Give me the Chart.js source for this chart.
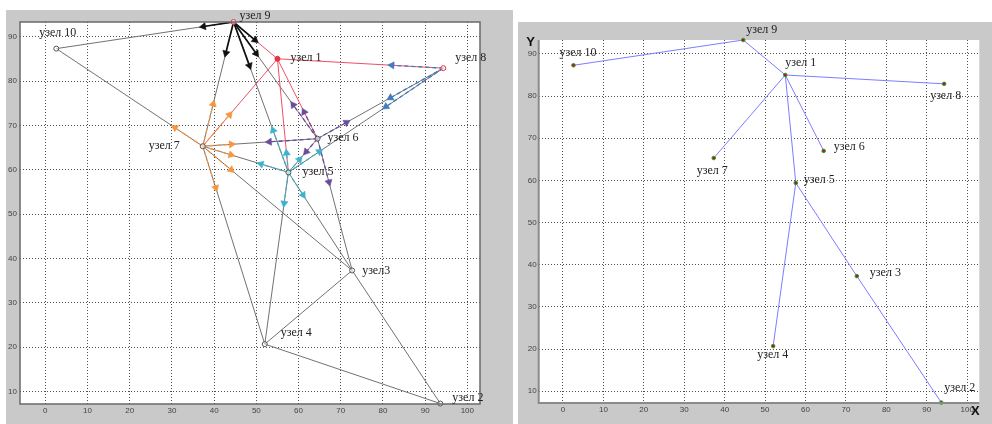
<!DOCTYPE html>
<html>
<head>
<meta charset="utf-8">
<script src="https://cdn.jsdelivr.net/npm/chart.js@4.4.1/dist/chart.umd.min.js"></script>
<style>
  html, body { margin: 0; padding: 0; background: #fff; }
  body { width: 992px; height: 424px; position: relative; overflow: hidden; }
  .panel { position: absolute; background: #c9c9c9; }
  #leftPanel { left: 6px; top: 10px; width: 507px; height: 414px; }
  #rightPanel { left: 518px; top: 22px; width: 474px; height: 402px; }
  canvas { display: block; }
</style>
</head>
<body>
<div class="panel" id="leftPanel"><canvas id="netChart"></canvas></div>
<div class="panel" id="rightPanel"><canvas id="treeChart"></canvas></div>
<script>
// node coordinates (узел 1 .. узел 10)
const nodeX = [55.0, 93.6, 72.7, 52.0, 57.6, 64.5, 37.3, 94.3, 44.6, 2.6];
const nodeY = [85.0, 7.3, 37.3, 20.7, 59.4, 67.0, 65.3, 82.9, 93.3, 87.3];
const leftNames = ['узел 1', 'узел 2', 'узел3', 'узел 4', 'узел 5', 'узел 6', 'узел 7', 'узел 8', 'узел 9', 'узел 10'];
const rightNames = ['узел 1', 'узел 2', 'узел 3', 'узел 4', 'узел 5', 'узел 6', 'узел 7', 'узел 8', 'узел 9', 'узел 10'];

const xTicks = [0, 10, 20, 30, 40, 50, 60, 70, 80, 90, 100];
const yTicks = [10, 20, 30, 40, 50, 60, 70, 80, 90];

// full network (left)
const grayEdges = [[10, 9], [10, 7], [9, 7], [9, 6], [9, 5], [8, 6], [8, 5], [7, 6], [7, 5], [7, 3],
  [7, 4], [6, 5], [6, 3], [5, 3], [5, 4], [4, 3], [4, 2], [3, 2]];
const redEdges = [[9, 1], [1, 8], [1, 7], [1, 5], [1, 6]];

// flows: source node, target node, where the arrow head sits along the edge
const arrows = [
  [9, 10, 0.17], [9, 7, 0.25], [9, 1, 0.49], [9, 6, 0.27], [9, 5, 0.29],
  [7, 10, 0.19], [7, 9, 0.34], [7, 1, 0.36], [7, 6, 0.25], [7, 5, 0.33], [7, 3, 0.19], [7, 4, 0.21],
  [8, 1, 0.31], [8, 6, 0.42], [8, 5, 0.37],
  [6, 7, 0.42], [6, 9, 0.29], [6, 1, 0.335], [6, 8, 0.23], [6, 5, 0.39], [6, 3, 0.33],
  [5, 7, 0.32], [5, 9, 0.28], [5, 1, 0.17], [5, 6, 0.38], [5, 8, 0.2], [5, 4, 0.18], [5, 3, 0.23]
];

// resulting tree (right)
const treeEdges = [[10, 9], [9, 1], [1, 8], [1, 7], [1, 6], [1, 5], [5, 4], [5, 3], [3, 2]];

const flowColors = { 9: '#111111', 7: '#f5953f', 8: '#3f7bbf', 6: '#6b4c9c', 5: '#3cb3cc' };

const pt = n => ({ x: nodeX[n - 1], y: nodeY[n - 1] });
const along = (a, b, t) => ({
  x: nodeX[a - 1] + (nodeX[b - 1] - nodeX[a - 1]) * t,
  y: nodeY[a - 1] + (nodeY[b - 1] - nodeY[a - 1]) * t
});

const panelPlugin = {
  id: 'panel',
  beforeDraw(chart) {
    const a = chart.chartArea, ctx = chart.ctx;
    ctx.save();
    ctx.fillStyle = '#ffffff';
    ctx.fillRect(a.left, a.top, a.right - a.left, a.bottom - a.top);
    ctx.restore();
  },
  afterDraw(chart, args, opts) {
    const { ctx, chartArea: a, scales } = chart;
    ctx.save();
    ctx.strokeStyle = opts.frameColor;
    ctx.lineWidth = opts.frameWidth;
    ctx.beginPath();
    if (opts.frame === 'box') {
      ctx.rect(a.left, a.top, a.right - a.left, a.bottom - a.top);
    } else {
      ctx.moveTo(a.left, a.top);
      ctx.lineTo(a.left, a.bottom);
      ctx.lineTo(a.right, a.bottom);
    }
    ctx.stroke();
    //node names
    ctx.font = '12px "Liberation Serif", serif';
    ctx.fillStyle = '#222';
    ctx.textBaseline = 'middle';
    opts.names.forEach((name, i) => {
      const px = scales.x.getPixelForValue(nodeX[i]);
      const py = scales.y.getPixelForValue(nodeY[i]);
      const off = opts.offsets[i];
      ctx.textAlign = off[2] || 'left';
      ctx.fillText(name, px + off[0], py + off[1]);
    });
    //axis letters (right chart only)
    if (opts.axisLetters) {
      ctx.font = 'bold 13px "Liberation Sans", sans-serif';
      ctx.fillStyle = '#111';
      ctx.textAlign = 'center';
      ctx.fillText('Y', a.left - 8, a.top + 2);
      ctx.fillText('X', a.right - 4, a.bottom + 8);
    }
    ctx.restore();
  }
};

function axes(yWidth, xHeight, yPad) {
  const common = {
    type: 'linear',
    grid: { color: 'rgba(60,60,60,0.9)', lineWidth: 1, drawTicks: false },
    border: { display: false, dash: [1, 2] },
    ticks: { color: '#444', font: { family: '"Liberation Sans", sans-serif', size: 8 } }
  };
  return {
    x: {
      ...common, min: -6, max: 103,
      ticks: { ...common.ticks, padding: 2 },
      afterBuildTicks: s => { s.ticks = xTicks.map(v => ({ value: v })); },
      afterFit: s => { s.height = xHeight; }
    },
    y: {
      ...common, min: 7.2, max: 93.3,
      ticks: { ...common.ticks, padding: yPad },
      afterBuildTicks: s => { s.ticks = yTicks.map(v => ({ value: v })); },
      afterFit: s => { s.width = yWidth; }
    }
  };
}

document.addEventListener('DOMContentLoaded', function () {
  // ---------- left: network with flows ----------
  const netSets = [];
  grayEdges.forEach(([a, b]) => netSets.push({
    data: [pt(a), pt(b)], showLine: true, borderColor: '#727272', borderWidth: 1, pointRadius: 0, order: 6
  }));
  redEdges.forEach(([a, b]) => netSets.push({
    data: [pt(a), pt(b)], showLine: true, borderColor: '#ef5064', borderWidth: 1, pointRadius: 0, order: 5
  }));
  arrows.forEach(([f, t, p]) => netSets.push({
    data: [pt(f), along(f, t, p)], showLine: true, borderColor: flowColors[f],
    borderWidth: f === 9 ? 1.7 : 1.3, borderDash: f === 9 ? [] : [4, 3], pointRadius: 0, order: 4
  }));
  Object.keys(flowColors).forEach(src => {
    const s = Number(src);
    netSets.push({
      data: arrows.filter(r => r[0] === s).map(([f, t, p]) => ({ ...along(f, t, p), from: f, to: t })),
      pointStyle: 'triangle', pointRadius: 4.2, borderWidth: 0.5,
      backgroundColor: flowColors[s], borderColor: flowColors[s], clip: false, order: 2,
      rotation: ctx => {
        const r = ctx.raw;
        if (!r) return 0;
        const sx = ctx.chart.scales.x, sy = ctx.chart.scales.y;
        const dx = sx.getPixelForValue(nodeX[r.to - 1]) - sx.getPixelForValue(nodeX[r.from - 1]);
        const dy = sy.getPixelForValue(nodeY[r.to - 1]) - sy.getPixelForValue(nodeY[r.from - 1]);
        return Math.atan2(dx, -dy) * 180 / Math.PI;
      }
    });
  });
  netSets.push({
    data: nodeX.map((x, i) => ({ x: x, y: nodeY[i] })),
    pointStyle: 'circle', pointRadius: 2.5, borderWidth: 1,
    backgroundColor: nodeX.map((_, i) => i === 0 ? '#e83048' : 'rgba(255,255,255,0.6)'),
    borderColor: nodeX.map((_, i) => [0, 7, 8].includes(i) ? '#e83048' : '#555'),
    clip: false, order: 1
  });

  new Chart(document.getElementById('netChart'), {
    type: 'scatter',
    data: { datasets: netSets },
    options: {
      responsive: true, maintainAspectRatio: false, animation: false, events: [],
      layout: { padding: { left: 0, top: 12, right: 33, bottom: 0 }, autoPadding: false },
      scales: axes(14, 20, 3),
      plugins: {
        legend: { display: false }, tooltip: { enabled: false }, colors: { enabled: false },
        panel: {
          frame: 'box', frameColor: '#6a6a6a', frameWidth: 1.5, names: leftNames,
          offsets: [[13, -1], [12, -6], [10, 0], [16, -11], [14, -1], [10, -1], [-23, 0, 'right'], [12, -10], [6, -6], [-17, -16]]
        }
      }
    },
    plugins: [panelPlugin]
  });

  // ---------- right: result tree ----------
  const treeSets = treeEdges.map(([a, b]) => ({
    data: [pt(a), pt(b)], showLine: true, borderColor: '#7d7dff', borderWidth: 1, pointRadius: 0, order: 3
  }));
  treeSets.push({
    data: nodeX.map((x, i) => ({ x: x, y: nodeY[i] })),
    pointStyle: 'circle', pointRadius: 1.8, borderWidth: 1,
    backgroundColor: '#c01010', borderColor: '#30a030', clip: false, order: 1
  });

  new Chart(document.getElementById('treeChart'), {
    type: 'scatter',
    data: { datasets: treeSets },
    options: {
      responsive: true, maintainAspectRatio: false, animation: false, events: [],
      layout: { padding: { left: 0, top: 18, right: 12.7, bottom: 0 }, autoPadding: false },
      scales: axes(20.7, 21, 2),
      plugins: {
        legend: { display: false }, tooltip: { enabled: false }, colors: { enabled: false },
        panel: {
          frame: 'axes', frameColor: '#8a8a8a', frameWidth: 2, names: rightNames, axisLetters: true,
          offsets: [[0, -12], [3, -15], [13, -3], [-16, 9], [8, -3], [10, -4], [-17, 13], [-14, 12], [3, -10], [-14, -12]]
        }
      }
    },
    plugins: [panelPlugin]
  });
});
</script>
</body>
</html>
